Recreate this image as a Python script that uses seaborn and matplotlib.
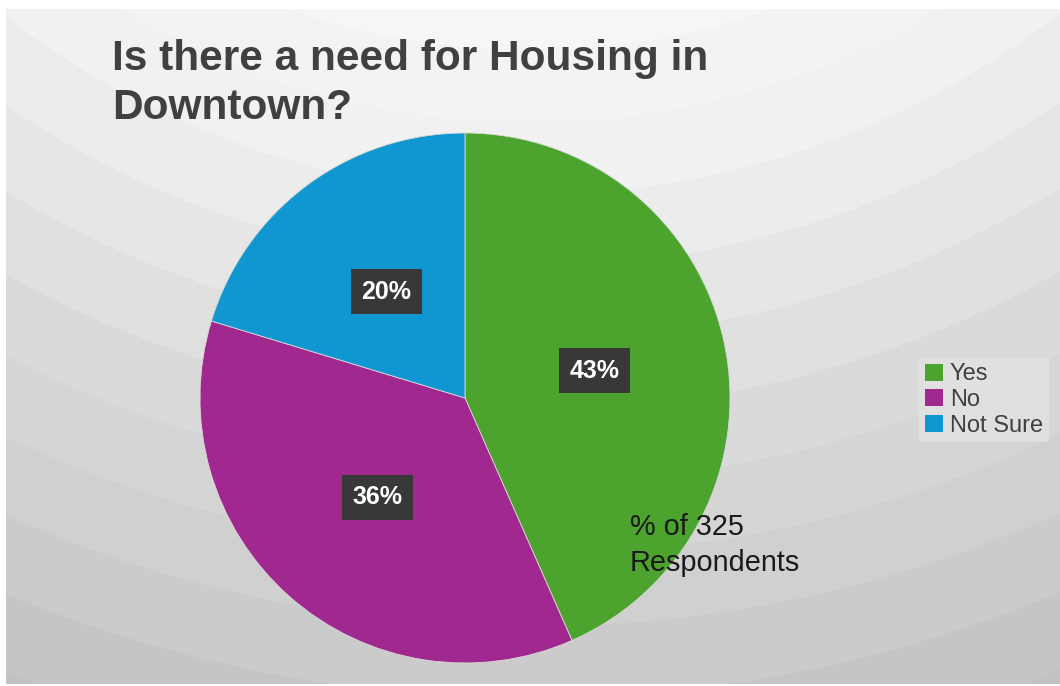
import numpy as np
import matplotlib
matplotlib.use('Agg')
import matplotlib.pyplot as plt
import matplotlib.patches as mpatches
import seaborn as sns

# datos (325 encuestados)
categorias = ['Yes', 'No', 'Not Sure']
respuestas = [141, 118, 66]
colores = ['#4ca32e', '#a0288e', '#1096d0']
titulo = 'Is there a need for Housing in\nDowntown?'
nota = '% of 325\nRespondents'

sns.set_theme(style='white')
plt.rcParams['font.family'] = ['Liberation Sans', 'DejaVu Sans']

W, H = 1060, 686
fig = plt.figure(figsize=(W / 100, H / 100), dpi=100)
fig.patch.set_facecolor('white')

# fondo gris con bandas concentricas
bg = fig.add_axes([6 / W, 2 / H, (W - 6) / W, (H - 11) / H])
yy, xx = np.mgrid[9:684, 6:W]
d = np.hypot(xx - 530, yy + 670)
d = np.floor(d / 72) * 72 + 36
gris = np.interp(d, [680, 870, 1100, 1450], [0.965, 0.935, 0.86, 0.76])
bg.imshow(gris, cmap='gray', vmin=0, vmax=1, aspect='auto', interpolation='bilinear')
bg.axis('off')

# tarta
r = 265
cx, cy = 465, 398
ax = fig.add_axes([(cx - r) / W, (H - cy - r) / H, 2 * r / W, 2 * r / H])
wedges, textos, pcts = ax.pie(respuestas, colors=colores, startangle=90, counterclock=False,
                              autopct='%1.0f%%', pctdistance=0.5,
                              wedgeprops={'edgecolor': '#d8d8d8', 'linewidth': 0.6},
                              textprops={'color': 'white', 'fontsize': 18, 'fontweight': 'bold'})
for t in pcts:
    t.set_bbox({'boxstyle': 'square,pad=0.42', 'facecolor': '#383838', 'edgecolor': 'none'})
ax.set_xlim(-1, 1)
ax.set_ylim(-1, 1)
ax.axis('off')

fig.text(112 / W, 1 - 39 / H, titulo, fontsize=30.5, fontweight='bold', color='#404040',
         va='top', ha='left', linespacing=1.3)

fig.text(630 / W, 1 - 545 / H, nota, fontsize=20.8, color='#1a1a1a', va='center', ha='left',
         linespacing=1.32)

handles = [mpatches.Patch(facecolor=c, edgecolor='none', label=l) for c, l in zip(colores, categorias)]
leg = fig.legend(handles=handles, loc='center left', bbox_to_anchor=(919 / W, 1 - 400 / H),
                 fontsize=17, frameon=True, fancybox=False, handlelength=0.75, handleheight=0.75,
                 handletextpad=0.3, labelspacing=0.15, borderpad=0.25, borderaxespad=0)
leg.get_frame().set_facecolor('#e2e2e2')
leg.get_frame().set_edgecolor('none')
for t in leg.get_texts():
    t.set_color('#404040')

plt.savefig('out.png', dpi=100)
